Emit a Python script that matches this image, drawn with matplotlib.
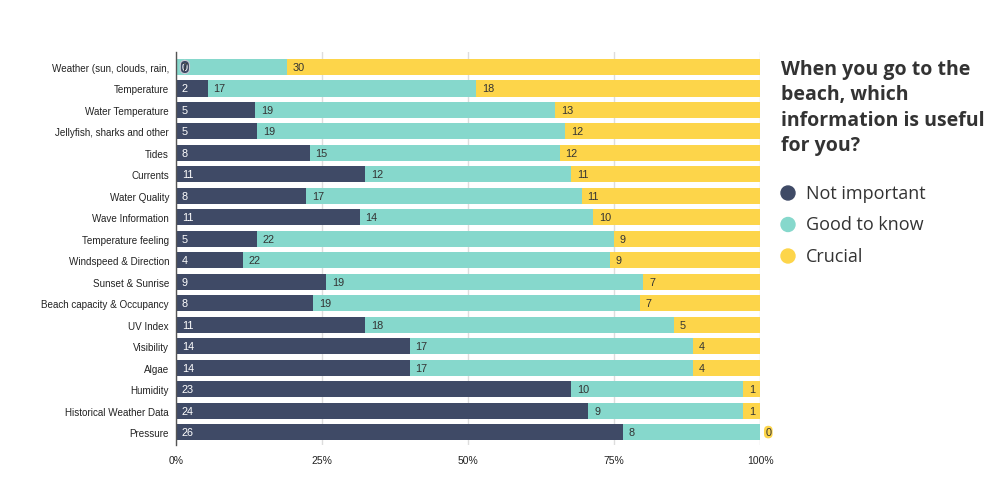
import matplotlib
matplotlib.use("Agg")
import matplotlib.pyplot as plt
import numpy as np

categories = ["Weather (sun, clouds, rain,", "Temperature", "Water Temperature",
              "Jellyfish, sharks and other", "Tides", "Currents", "Water Quality",
              "Wave Information", "Temperature feeling", "Windspeed & Direction",
              "Sunset & Sunrise", "Beach capacity & Occupancy", "UV Index", "Visibility",
              "Algae", "Humidity", "Historical Weather Data", "Pressure"]
not_important = [0, 2, 5, 5, 8, 11, 8, 11, 5, 4, 9, 8, 11, 14, 14, 23, 24, 26]
good_to_know = [7, 17, 19, 19, 15, 12, 17, 14, 22, 22, 19, 19, 18, 17, 17, 10, 9, 8]
crucial = [30, 18, 13, 12, 12, 11, 11, 10, 9, 9, 7, 7, 5, 4, 4, 1, 1, 0]
series_names = ["Not important", "Good to know", "Crucial"]
colors = ["#3f4a66", "#86d8cc", "#fdd54a"]
title = "When you go to the\nbeach, which\ninformation is useful\nfor you?"

fig = plt.figure(figsize=(10.06, 4.89), dpi=100)
ax = fig.add_axes([0.175, 0.088, 0.5805, 0.8037])

data = np.array([not_important, good_to_know, crucial], dtype=float)
totals = data.sum(axis=0)
pct = data / totals * 100
y = np.arange(len(categories))
left = np.zeros(len(categories))
vfont = dict(fontsize=7.8, family="Liberation Sans")
for i in range(3):
    ax.barh(y, pct[i], left=left, height=0.75, color=colors[i], zorder=3)
    for j in range(len(categories)):
        v = int(data[i, j])
        txtcol = "white" if i == 0 else "#333333"
        if v == 0:
            if i == 0:
                ax.text(left[j] + 1.0, y[j], "0", ha="left", va="center", color="white",
                        zorder=5, **vfont,
                        bbox=dict(boxstyle="round,pad=0.15,rounding_size=0.45", fc=colors[0],
                                  ec="#c8ccd6", lw=0.8))
            else:
                ax.text(left[j] + 0.9, y[j], "0", ha="left", va="center", color="#333333",
                        zorder=5, clip_on=False, **vfont,
                        bbox=dict(boxstyle="round,pad=0.12,rounding_size=0.4", fc=colors[2],
                                  ec="none"))
        else:
            ax.text(left[j] + 1.0, y[j], str(v), ha="left", va="center", color=txtcol,
                    zorder=5, **vfont)
    left += pct[i]

ax.set_ylim(len(categories) - 0.4, -0.7)
ax.set_xlim(0, 100)
ax.set_yticks(y)
ax.set_yticklabels(categories, fontsize=7.1, family="Liberation Sans", color="#222222")
ax.set_xticks([0, 25, 50, 75, 100])
ax.set_xticklabels(["0%", "25%", "50%", "75%", "100%"], fontsize=7.5,
                   family="Liberation Sans", color="#222222")
ax.tick_params(axis="both", length=0, pad=5)
ax.tick_params(axis="x", pad=7)
ax.grid(axis="x", color="#dddddd", lw=1, zorder=0)
for s in ["top", "right", "bottom"]:
    ax.spines[s].set_visible(False)
ax.spines["left"].set_color("#555555")
ax.spines["left"].set_linewidth(1)
ax.spines["left"].set_zorder(4)

fig.text(781 / 1006, 1 - 60 / 489, title, ha="left", va="top", fontsize=14,
         fontweight="bold", family="Open Sans", color="#333333", linespacing=1.35)
for k, name in enumerate(series_names):
    yy = 1 - (194 + k * 31.5) / 489
    fig.patches.append(matplotlib.patches.Ellipse((788 / 1006, yy), 14 / 1006, 14 / 489,
                                                  transform=fig.transFigure, color=colors[k]))
    fig.text(806 / 1006, yy, name, ha="left", va="center", fontsize=13,
             family="Open Sans", color="#333333")

fig.savefig("out.png", dpi=100)
